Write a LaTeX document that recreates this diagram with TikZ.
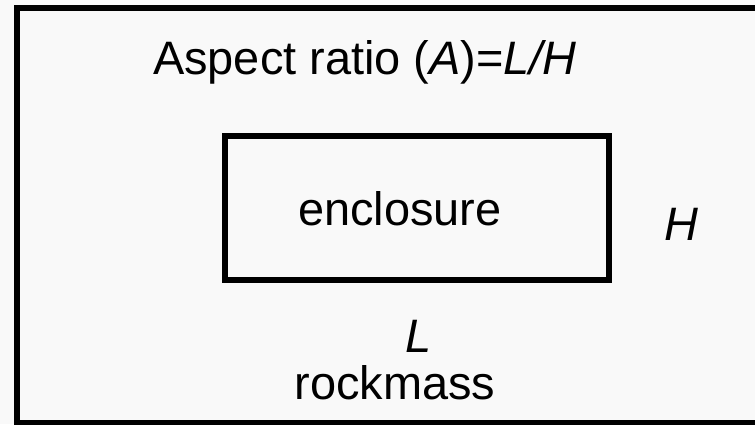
\documentclass[tikz,border=0pt]{standalone}
\usepackage{fontspec}
\setmainfont{Liberation Sans}
\usepackage{tikz}
\usetikzlibrary{positioning}
\definecolor{paper}{RGB}{249,249,249}
\newcommand{\labelfont}{\fontsize{26.7}{32}\selectfont}

\begin{document}
\begin{tikzpicture}[
    frame/.style={draw=black, line width=3.4pt},
    box/.style={draw=black, line width=3.4pt, minimum width=7.68cm, minimum height=2.88cm, inner sep=0pt},
    word/.style={anchor=base, inner sep=0pt, font=\labelfont}
]

% page
\useasboundingbox (0,0) rectangle (15.1,8.48);
\fill[paper] (0,0) rectangle (15.1,8.48);

% rockmass frame (right side runs off the page)
\draw[frame] (15.4,8.32) -- (0.34,8.32) -- (0.34,0.02) -- (15.4,0.02);

% enclosure
\node[box] (encl) at (8.34,4.32) {};
\node[word] (enclname) at (8.0,3.98) {enclosure};

% labels
\node[word] (ratio) at (7.3,6.98) {Aspect ratio (\textit{A})=\textit{L/H}};
\node[word] (hgt) at (13.62,3.68) {\textit{H}};
\node[word] (len) at (8.38,1.44) {\textit{L}};
\node[word] (rock) at (7.9,0.5) {rockmass};

\end{tikzpicture}
\end{document}
